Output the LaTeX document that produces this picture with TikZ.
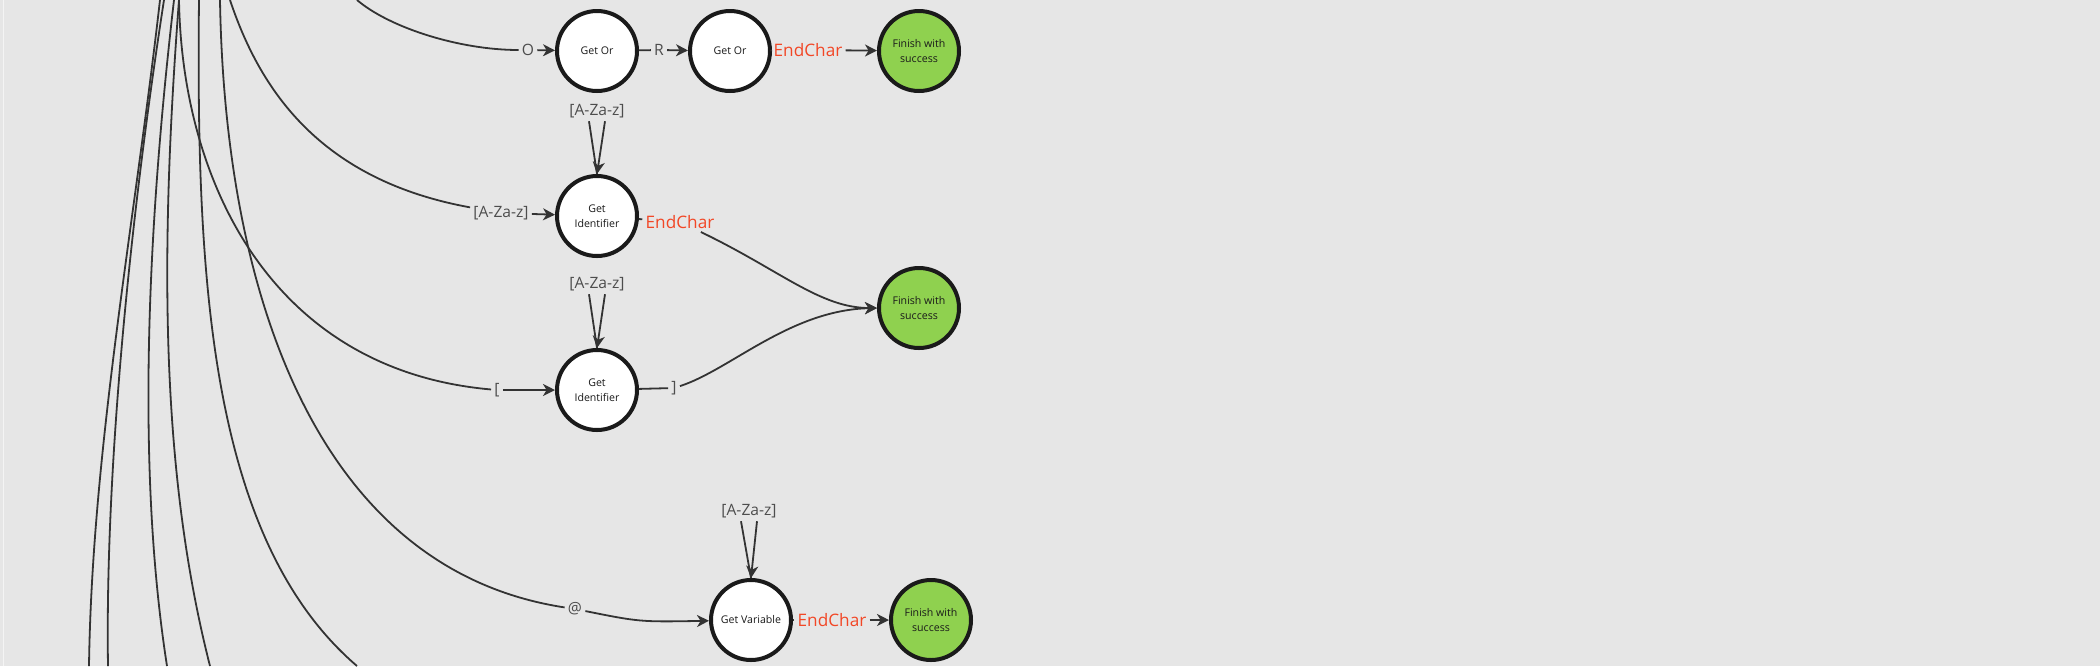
\documentclass[tikz,border=0pt]{standalone}
\usepackage{fontspec}
\setmainfont{Open Sans}
\usetikzlibrary{arrows.meta}
\definecolor{bgcol}{HTML}{E6E6E6}
\definecolor{linecol}{HTML}{333333}
\definecolor{rimcol}{HTML}{1A1A1A}
\definecolor{okgreen}{HTML}{8FD14F}
\definecolor{endred}{HTML}{F24726}
\definecolor{labelcol}{HTML}{4D4D4D}

\begin{document}
\begin{tikzpicture}[x=0.5pt,y=0.5pt,
	state/.style={circle, draw=rimcol, line width=2pt, fill=white, minimum size=40pt, inner sep=0pt, align=center, text=rimcol, font=\fontsize{5.3}{7.3}\selectfont},
	finish/.style={state, fill=okgreen},
	lab/.style={inner sep=1.5pt, text=labelcol, font=\fontsize{7.8}{9}\selectfont},
	endlab/.style={lab, text=endred, font=\fontsize{8.6}{10}\selectfont},
	tr/.style={draw=linecol, line width=0.9pt},
	trarrow/.style={tr, -{Stealth[length=6pt,width=6pt,inset=1.8pt]}}]
	% Parameters
	\def\pw{2100}
	\def\ph{666}
	
	%canvas
	\fill[bgcol, use as bounding box] (0,0) rectangle (\pw,-\ph);
	\fill[white!55!bgcol] (2.5,0) rectangle (4,-\ph);
	
	%states
	\node[state] (or1) at (597,-51) {Get Or};
	\node[state] (or2) at (730,-51) {Get Or};
	\node[finish] (fin1) at (919,-51) {Finish with\\success};
	\node[state] (id1) at (597,-216) {Get\\Identifier};
	\node[finish] (fin2) at (919,-308) {Finish with\\success};
	\node[state] (id2) at (597,-390) {Get\\Identifier};
	\node[state] (var) at (751,-620) {Get Variable};
	\node[finish] (fin3) at (931,-620) {Finish with\\success};
	
	%labels
	\node[lab] (lo) at (528,-50) {O};
	\node[lab] (lr) at (659,-50) {R};
	\node[endlab] (le1) at (808,-50) {EndChar};
	\node[lab] (laz1) at (597,-111) {[A-Za-z]};
	\node[lab] (laz2) at (501,-213) {[A-Za-z]};
	\node[endlab] (le2) at (680,-222) {EndChar};
	\node[lab] (laz3) at (597,-284) {[A-Za-z]};
	\node[lab] (lbl) at (497,-390) {[};
	\node[lab] (lbr) at (674,-388) {]};
	\node[lab] (laz4) at (749,-511) {[A-Za-z]};
	\node[lab] (lat) at (575,-609) {@};
	\node[endlab] (le3) at (832,-620) {EndChar};
	
	%free ends above and below
	\coordinate (ta) at (160,0);
	\coordinate (tb) at (164,0);
	\coordinate (tc) at (174,0);
	\coordinate (td) at (179,0);
	\coordinate (te) at (179,0);
	\coordinate (tf) at (199,0);
	\coordinate (tg) at (220,0);
	\coordinate (th) at (230,0);
	\coordinate (ti) at (357,0);
	\coordinate (ba) at (89,-\ph);
	\coordinate (bb) at (108,-\ph);
	\coordinate (bc) at (167,-\ph);
	\coordinate (bd) at (210,-\ph);
	\coordinate (bf) at (357,-\ph);
	
	%passing through
	\draw[tr] (ta) .. controls (135,-220) and (92,-450) .. (ba);
	\draw[tr] (tb) .. controls (130,-220) and (105,-470) .. (bb);
	\draw[tr] (tc) .. controls (145,-250) and (138,-480) .. (bc);
	\draw[tr] (td) .. controls (160,-250) and (160,-470) .. (bd);
	\draw[tr] (tf) .. controls (196,-280) and (210,-540) .. (bf);
	
	%coming in
	\draw[tr] (ti) .. controls (390,-28) and (460,-50) .. (lo);
	\draw[tr] (th) .. controls (260,-90) and (320,-180) .. (laz2);
	\draw[tr] (te) .. controls (182,-180) and (270,-370) .. (lbl);
	\draw[tr] (tg) .. controls (225,-300) and (320,-570) .. (lat);
	\draw[trarrow] (lo) -- (or1);
	\draw[trarrow] (laz2) -- (id1);
	\draw[trarrow] (lbl) -- (id2);
	\draw[trarrow] (lat) .. controls (640,-622) .. (var);
	
	%Get Or
	\draw[tr] (or1) -- (lr);
	\draw[trarrow] (lr) -- (or2);
	\draw[tr] (or2) -- (le1);
	\draw[trarrow] (le1) -- (fin1);
	
	%loops
	\draw[tr] (id1.north) -- ([xshift=-4pt]laz1.south);
	\draw[trarrow] ([xshift=4pt]laz1.south) -- (id1.north);
	\draw[tr] (id2.north) -- ([xshift=-4pt]laz3.south);
	\draw[trarrow] ([xshift=4pt]laz3.south) -- (id2.north);
	\draw[tr] (var.north) -- ([xshift=-4pt]laz4.south);
	\draw[trarrow] ([xshift=4pt]laz4.south) -- (var.north);
	
	%to success
	\draw[tr] (id1) -- (le2);
	\draw[trarrow] (le2) .. controls (780,-270) and (820,-308) .. (fin2.west);
	\draw[tr] (id2) -- (lbr);
	\draw[trarrow] (lbr) .. controls (730,-370) and (790,-310) .. (fin2.west);
	\draw[tr] (var) -- (le3);
	\draw[trarrow] (le3) -- (fin3);
\end{tikzpicture}
\end{document}
